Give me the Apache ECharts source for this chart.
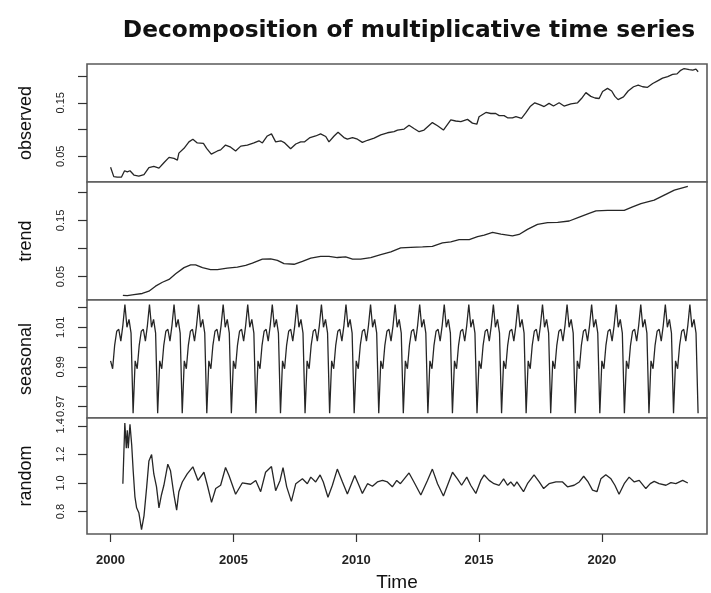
<!DOCTYPE html>
<html>
<head>
<meta charset="utf-8">
<script src="https://cdn.jsdelivr.net/npm/echarts@6/dist/echarts.min.js"></script>
<style>html,body{margin:0;padding:0;background:#fff}#c{width:711px;height:593px}</style>
</head>
<body>
<div id="c"></div>
<script>
// ---- data (time in decimal years) ----
const observedData = [
[2000.00,0.0295],[2000.13,0.012],[2000.27,0.011],[2000.44,0.011],[2000.57,0.023],[2000.68,0.021],[2000.79,0.023],[2000.95,0.015],[2001.15,0.013],[2001.36,0.016],[2001.56,0.029],[2001.76,0.031],[2001.97,0.028],[2002.17,0.038],[2002.38,0.048],[2002.58,0.046],[2002.72,0.043],[2002.78,0.056],[2002.99,0.065],[2003.19,0.077],[2003.35,0.082],[2003.53,0.075],[2003.78,0.074],[2003.91,0.065],[2004.10,0.054],[2004.35,0.060],[2004.48,0.062],[2004.68,0.071],[2004.89,0.067],[2005.09,0.060],[2005.30,0.069],[2005.57,0.071],[2005.84,0.075],[2006.04,0.079],[2006.18,0.075],[2006.38,0.088],[2006.55,0.092],[2006.72,0.077],[2006.93,0.079],[2007.09,0.075],[2007.33,0.064],[2007.54,0.073],[2007.74,0.077],[2007.90,0.077],[2008.12,0.085],[2008.35,0.088],[2008.55,0.092],[2008.76,0.087],[2008.89,0.077],[2009.10,0.088],[2009.26,0.095],[2009.50,0.085],[2009.64,0.082],[2009.85,0.085],[2010.05,0.082],[2010.25,0.076],[2010.46,0.080],[2010.73,0.084],[2011.00,0.090],[2011.27,0.094],[2011.54,0.096],[2011.68,0.099],[2011.95,0.101],[2012.15,0.108],[2012.35,0.102],[2012.56,0.096],[2012.76,0.099],[2013.10,0.113],[2013.31,0.107],[2013.55,0.099],[2013.85,0.118],[2014.05,0.116],[2014.26,0.115],[2014.53,0.119],[2014.73,0.112],[2014.91,0.110],[2015.00,0.124],[2015.28,0.132],[2015.48,0.130],[2015.68,0.130],[2015.82,0.126],[2016.02,0.126],[2016.16,0.122],[2016.36,0.122],[2016.50,0.124],[2016.73,0.121],[2016.90,0.131],[2017.08,0.143],[2017.27,0.150],[2017.49,0.146],[2017.65,0.143],[2017.85,0.149],[2018.03,0.144],[2018.26,0.150],[2018.46,0.144],[2018.74,0.148],[2019.01,0.150],[2019.17,0.158],[2019.35,0.169],[2019.55,0.162],[2019.72,0.159],[2019.89,0.158],[2020.03,0.171],[2020.23,0.177],[2020.40,0.172],[2020.53,0.162],[2020.66,0.156],[2020.88,0.161],[2021.07,0.172],[2021.29,0.180],[2021.48,0.183],[2021.66,0.180],[2021.86,0.179],[2022.07,0.186],[2022.27,0.191],[2022.47,0.196],[2022.68,0.199],[2022.88,0.203],[2023.06,0.204],[2023.19,0.210],[2023.35,0.214],[2023.56,0.212],[2023.70,0.211],[2023.83,0.213],[2023.92,0.208]
];

const trendData = [
[2000.50,0.0168],[2000.68,0.0163],[2000.95,0.018],[2001.29,0.020],[2001.56,0.024],[2001.83,0.033],[2002.11,0.040],[2002.38,0.045],[2002.65,0.055],[2002.99,0.066],[2003.26,0.071],[2003.46,0.071],[2003.74,0.066],[2004.07,0.0625],[2004.35,0.0625],[2004.75,0.065],[2005.16,0.067],[2005.50,0.070],[2005.77,0.074],[2006.18,0.081],[2006.52,0.0815],[2006.79,0.079],[2007.06,0.073],[2007.47,0.072],[2007.81,0.077],[2008.15,0.083],[2008.55,0.086],[2008.89,0.086],[2009.23,0.084],[2009.57,0.085],[2009.85,0.081],[2010.18,0.081],[2010.59,0.084],[2011.00,0.089],[2011.41,0.094],[2011.81,0.101],[2012.22,0.102],[2012.70,0.103],[2013.10,0.104],[2013.51,0.110],[2013.85,0.112],[2014.19,0.116],[2014.60,0.116],[2014.94,0.121],[2015.21,0.124],[2015.55,0.1286],[2015.89,0.1255],[2016.36,0.1225],[2016.63,0.125],[2016.97,0.134],[2017.38,0.143],[2017.79,0.146],[2018.20,0.1465],[2018.67,0.149],[2019.08,0.156],[2019.48,0.1625],[2019.76,0.167],[2020.23,0.168],[2020.91,0.168],[2021.25,0.174],[2021.59,0.180],[2022.13,0.186],[2022.54,0.195],[2022.95,0.204],[2023.50,0.2105]
];

// one seasonal figure per month (Jan..Dec), repeated each year by the decomposition
const seasonalFigure = [0.993,0.989,1.001,1.008,1.009,1.003,1.011,1.0215,1.010,1.014,1.007,0.9665];
const seasonalYears = [2000,2001,2002,2003,2004,2005,2006,2007,2008,2009,2010,2011,2012,2013,2014,2015,2016,2017,2018,2019,2020,2021,2022,2023];

const randomData = [
[2000.50,0.995],[2000.58,1.42],[2000.64,1.244],[2000.68,1.368],[2000.72,1.244],[2000.79,1.41],[2000.86,1.266],[2000.92,1.085],[2000.99,0.905],[2001.06,0.826],[2001.15,0.792],[2001.26,0.673],[2001.36,0.77],[2001.47,0.973],[2001.56,1.153],[2001.67,1.199],[2001.76,1.063],[2001.87,0.973],[2001.97,0.826],[2002.07,0.916],[2002.17,0.984],[2002.33,1.131],[2002.44,1.085],[2002.58,0.916],[2002.69,0.81],[2002.78,0.939],[2002.92,1.007],[2003.12,1.063],[2003.35,1.113],[2003.56,1.018],[2003.80,1.075],[2003.94,0.984],[2004.11,0.864],[2004.28,0.961],[2004.48,0.984],[2004.68,1.108],[2004.82,1.052],[2005.09,0.921],[2005.36,1.0],[2005.70,0.991],[2005.91,1.018],[2006.11,0.939],[2006.31,1.075],[2006.55,1.115],[2006.72,0.946],[2006.90,1.018],[2007.02,1.108],[2007.17,0.973],[2007.36,0.871],[2007.54,0.995],[2007.81,1.029],[2008.01,0.995],[2008.15,1.041],[2008.35,1.007],[2008.53,1.056],[2008.66,1.007],[2008.85,0.9],[2009.03,0.984],[2009.23,1.097],[2009.44,1.007],[2009.64,0.923],[2009.94,1.052],[2010.11,0.984],[2010.25,0.927],[2010.46,0.995],[2010.66,0.977],[2010.86,1.007],[2011.07,1.018],[2011.27,1.007],[2011.47,0.973],[2011.65,1.018],[2011.80,0.995],[2012.15,1.07],[2012.35,1.007],[2012.63,0.916],[2012.90,1.018],[2013.10,1.097],[2013.31,0.995],[2013.55,0.909],[2013.74,0.995],[2013.92,1.075],[2014.12,1.029],[2014.29,0.984],[2014.50,1.041],[2014.66,0.984],[2014.87,0.927],[2015.07,1.018],[2015.21,1.056],[2015.41,1.018],[2015.61,0.995],[2015.82,0.984],[2016.00,1.029],[2016.16,0.984],[2016.29,1.007],[2016.43,0.977],[2016.54,1.007],[2016.81,0.939],[2016.97,0.995],[2017.24,1.056],[2017.45,1.007],[2017.63,0.961],[2017.85,0.995],[2018.13,1.007],[2018.40,1.007],[2018.60,0.973],[2018.87,0.984],[2019.08,1.007],[2019.26,1.047],[2019.44,1.007],[2019.62,0.95],[2019.80,0.939],[2019.96,1.029],[2020.16,1.058],[2020.37,1.029],[2020.53,0.984],[2020.70,0.921],[2020.91,0.995],[2021.11,1.041],[2021.32,1.007],[2021.52,1.018],[2021.79,0.961],[2021.97,0.995],[2022.13,1.011],[2022.33,0.995],[2022.61,0.984],[2022.81,1.002],[2023.01,0.995],[2023.29,1.018],[2023.50,1.0]
];

const xTicks = [2000, 2005, 2010, 2015, 2020];
const panelNames = ['observed', 'trend', 'seasonal', 'random'];
const yTicks = [[0.05,0.10,0.15,0.20],[0.05,0.10,0.15,0.20],[0.97,0.98,0.99,1.00,1.01,1.02],[0.8,1.0,1.2,1.4]];
const yLabels = [[0.05,0.15],[0.05,0.15],[0.97,0.99,1.01],[0.8,1.0,1.2,1.4]];
const yDigits = [2,2,2,1];
const yRanges = [[0.002,0.2225],[0.0084,0.2184],[0.9641,1.0238],[0.643,1.4545]];

// ---- build seasonal series from the monthly figure ----
const seasonalData = [];
seasonalYears.forEach(y => seasonalFigure.forEach((v, m) => seasonalData.push([y + m / 12, v])));

const panelTops = [64, 182, 300, 418];
const panelH = [118, 118, 118, 119];
const FONT = '"Liberation Sans", Arial, sans-serif';
const lineColor = '#262626';
const borderColor = '#5a5a5a';

const grids = panelTops.map((t, i) => ({
  left: 87, right: 4, top: t, height: panelH[i],
  show: true, borderColor: borderColor, borderWidth: 1.6, backgroundColor: '#fff', containLabel: false
}));

const xAxes = panelTops.map((t, i) => ({
  type: 'value', gridIndex: i, min: 1999.04, max: 2024.28,
  show: i === 3,
  splitLine: { show: false },
  axisLine: { show: false },
  axisTick: { show: true, customValues: xTicks, length: 8, lineStyle: { color: '#333', width: 1.2 } },
  axisLabel: { show: true, customValues: xTicks, margin: 20, fontFamily: FONT, fontSize: 13, fontWeight: 'bold', color: '#222', formatter: v => String(Math.round(v)) },
  name: i === 3 ? 'Time' : '',
  nameLocation: 'middle', nameGap: 39,
  nameTextStyle: { fontFamily: FONT, fontSize: 19, color: '#111' }
}));

const yAxes = panelTops.map((t, i) => ({
  type: 'value', gridIndex: i, min: yRanges[i][0], max: yRanges[i][1],
  splitLine: { show: false },
  axisLine: { show: false },
  axisTick: { show: true, customValues: yTicks[i], length: 9, lineStyle: { color: '#333', width: 1.2 } },
  axisLabel: { show: true, customValues: yLabels[i], rotate: 90, margin: 21, fontFamily: FONT, fontSize: 11, color: '#222',
    formatter: v => Number(v).toFixed(yDigits[i]) },
  name: panelNames[i], nameLocation: 'middle', nameRotate: 90, nameGap: 52,
  nameTextStyle: { fontFamily: FONT, fontSize: 18, color: '#111' }
}));

const seriesData = [observedData, trendData, seasonalData, randomData];
const series = seriesData.map((d, i) => ({
  type: 'line', xAxisIndex: i, yAxisIndex: i, data: d,
  showSymbol: false, symbol: 'none', smooth: false,
  lineStyle: { color: lineColor, width: 1.3 }, silent: true
}));

const chart = echarts.init(document.getElementById('c'), null, { renderer: 'canvas' });
chart.setOption({
  animation: false,
  backgroundColor: '#fff',
  title: {
    text: 'Decomposition of multiplicative time series',
    left: 404, top: 14, textAlign: 'center',
    textStyle: { fontFamily: '"DejaVu Sans", sans-serif', fontSize: 23.3, fontWeight: 'bold', color: '#111' }
  },
  grid: grids,
  xAxis: xAxes,
  yAxis: yAxes,
  series: series
});
</script>
</body>
</html>
